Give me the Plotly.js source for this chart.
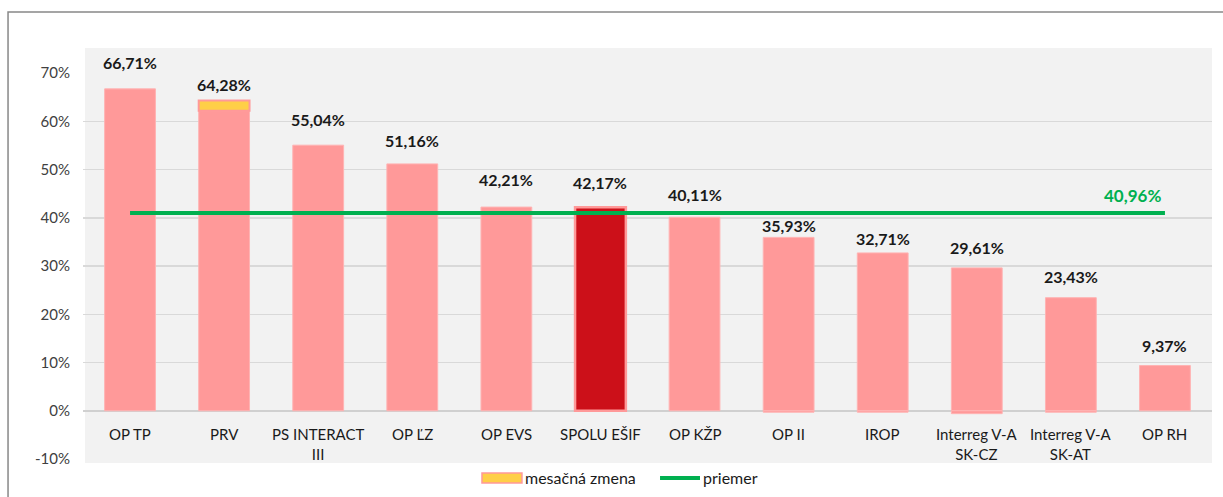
<!DOCTYPE html>
<html>
<head>
<meta charset="utf-8">
<script src="https://cdn.plot.ly/plotly-3.0.1.min.js"></script>
<style>html,body{margin:0;padding:0;background:#fff;}#chart{width:1223px;height:497px;}</style>
</head>
<body>
<div id="chart"></div>
<script>
// ---- data ----
const categories = ['OP TP','PRV','PS INTERACT III','OP ĽZ','OP EVS','SPOLU EŠIF','OP KŽP','OP II','IROP','Interreg V-A SK-CZ','Interreg V-A SK-AT','OP RH'];
const categoryLabels = ['OP TP','PRV','PS INTERACT<br>III','OP ĽZ','OP EVS','SPOLU EŠIF','OP KŽP','OP II','IROP','Interreg V-A<br>SK-CZ','Interreg V-A<br>SK-AT','OP RH'];
const totalValues = [66.71, 64.28, 55.04, 51.16, 42.21, 42.17, 40.11, 35.93, 32.71, 29.61, 23.43, 9.37];
const baseValues = [66.71, 62.20, 55.04, 51.16, 42.21, 42.17, 40.11, 35.93, 32.71, 29.61, 23.43, 9.37];
const monthlyChange = [null, 2.08, null, null, null, null, null, null, null, null, null, null];
const negativeValues = [null, null, null, null, null, null, null, -0.3, -0.3, -0.6, -0.3, null];
const averageValue = 40.96;
const yTickValues = [-10, 0, 10, 20, 30, 40, 50, 60, 70];
const yTickLabels = ['-10%', '0%', '10%', '20%', '30%', '40%', '50%', '60%', '70%'];
const legendNames = ['mesačná zmena', 'priemer'];
const totalLabel = 'SPOLU EŠIF';

// ---- styling ----
const FONT = 'Lato, "Open Sans", sans-serif';
const pink = '#ff9999';
const pinkEdge = '#ffb3b3';
const darkRed = '#cc1019';
const yellow = '#ffcf47';
const green = '#00b050';
// vertical lift (px) of each value label above its bar, as placed in the reference
const labelLift = [26, 16, 26, 23, 28, 25, 23, 12, 14, 20, 21, 20];

const fmt = v => v.toFixed(2).replace('.', ',') + '%';

const traces = [
  {
    type: 'bar', x: categories, y: baseValues, name: 'čerpanie', showlegend: false,
    marker: {
      color: categories.map(c => c === totalLabel ? darkRed : pink),
      line: { color: categories.map(c => c === totalLabel ? pink : pinkEdge),
              width: categories.map(c => c === totalLabel ? 2.5 : 1) }
    },
    hoverinfo: 'skip'
  },
  {
    type: 'bar', x: categories, y: monthlyChange, name: legendNames[0], showlegend: false,
    marker: { color: yellow, line: { color: pink, width: 2 } },
    hoverinfo: 'skip'
  },
  {
    type: 'bar', x: categories, y: negativeValues, name: 'pokles', showlegend: false,
    marker: { color: pink, line: { color: pinkEdge, width: 1 } },
    hoverinfo: 'skip'
  },
  {
    type: 'scatter', mode: 'lines', x: categories, y: categories.map(() => averageValue),
    name: legendNames[1], showlegend: false, line: { color: green, width: 4 }, hoverinfo: 'skip'
  }
];

const annotations = [];
categories.forEach((c, i) => {
  annotations.push({
    x: c, y: totalValues[i], xref: 'x', yref: 'y', text: fmt(totalValues[i]),
    showarrow: false, yanchor: 'middle', yshift: labelLift[i],
    font: { family: FONT, size: 16, color: '#1a1a1a', weight: 'bold' }
  });
  annotations.push({
    x: c, y: 0, xref: 'x', yref: 'y', text: categoryLabels[i],
    showarrow: false, yanchor: 'top', yshift: -12,
    font: { family: FONT, size: 15, color: '#1a1a1a' }
  });
});
annotations.push({
  x: categories[categories.length - 1], y: averageValue, xref: 'x', yref: 'y',
  text: fmt(averageValue), showarrow: false, xshift: -32, yshift: 18,
  font: { family: FONT, size: 17, color: green, weight: 'bold' }
});
// legend texts
annotations.push({ x: 0.3897, y: -0.0492, xref: 'paper', yref: 'paper', xanchor: 'left', yanchor: 'middle',
  text: legendNames[0], showarrow: false, font: { family: FONT, size: 16, color: '#1a1a1a' } });
annotations.push({ x: 0.5474, y: -0.0492, xref: 'paper', yref: 'paper', xanchor: 'left', yanchor: 'middle',
  text: legendNames[1], showarrow: false, font: { family: FONT, size: 16, color: '#1a1a1a' } });

const layout = {
  width: 1223, height: 497,
  margin: { l: 83, r: 11, t: 73, b: 38, pad: 0, autoexpand: false },
  paper_bgcolor: '#ffffff', plot_bgcolor: 'rgba(0,0,0,0)',
  font: { family: FONT, size: 15, color: '#404040' },
  barmode: 'relative', bargap: 0.46,
  hovermode: false,
  showlegend: false,
  xaxis: { showticklabels: false, showgrid: false, zeroline: false, showline: false, ticks: '', fixedrange: true },
  yaxis: {
    range: [-10, 70], tickvals: yTickValues, ticktext: yTickLabels,
    showgrid: true, gridcolor: '#d9d9d9', gridwidth: 1.5,
    zeroline: true, zerolinecolor: '#d0d0d0', zerolinewidth: 1.5,
    ticks: '', ticklabelstandoff: 12, showline: false,
    tickfont: { family: FONT, size: 15, color: '#404040' }, fixedrange: true
  },
  shapes: [
    { type: 'rect', xref: 'paper', yref: 'paper', x0: 0.0018, x1: 1.0, y0: -0.0104, y1: 1.0648,
      fillcolor: '#f2f2f2', line: { width: 0 }, layer: 'below' },
    { type: 'rect', xref: 'paper', yref: 'paper', x0: -0.0664, x1: 1.05, y0: -0.3, y1: 1.158,
      fillcolor: 'rgba(0,0,0,0)', line: { color: '#888888', width: 1.5 }, layer: 'below' },
    // legend swatches
    { type: 'rect', xref: 'paper', yref: 'paper', x0: 0.3534, x1: 0.3888, y0: -0.0622, y1: -0.0363,
      fillcolor: yellow, line: { color: pink, width: 1.5 } },
    { type: 'line', xref: 'paper', yref: 'paper', x0: 0.5111, x1: 0.5465, y0: -0.0492, y1: -0.0492,
      line: { color: green, width: 4 } }
  ],
  annotations: annotations
};

Plotly.newPlot('chart', traces, layout, { displayModeBar: false, staticPlot: true });
</script>
</body>
</html>
